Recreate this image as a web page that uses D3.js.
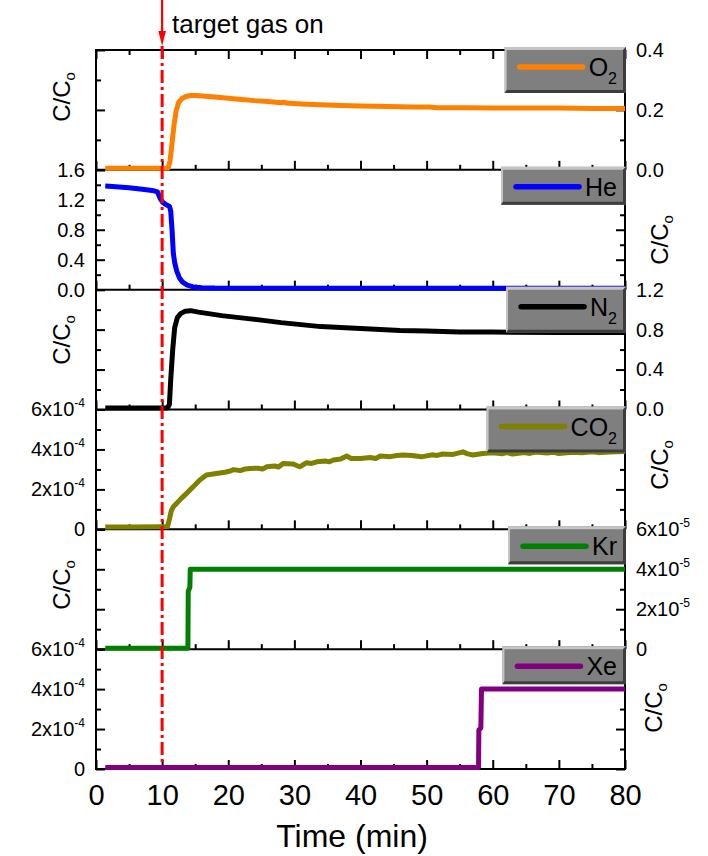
<!DOCTYPE html>
<html>
<head>
<meta charset="utf-8">
<script src="https://cdn.jsdelivr.net/npm/d3@7"></script>
<style>
  body { margin: 0; background: #ffffff; }
  svg { display: block; font-family: Arial, "Liberation Sans", sans-serif; }
</style>
</head>
<body>
<svg id="chart" width="708" height="856"></svg>
<script>
// ---- data ----------------------------------------------------------------
const gases      = ["O2", "He", "N2", "CO2", "Kr", "Xe"];
const gasColors  = ["#ff8000", "#0000ff", "#000000", "#808000", "#008000", "#800080"];
const yMax       = [0.4, 1.6, 1.2, 6e-4, 6e-5, 6e-4];
const yStep      = [0.2, 0.4, 0.4, 2e-4, 2e-5, 2e-4];
const yExponent  = [null, null, null, -4, -5, -4];
const labelSide  = ["right", "left", "right", "left", "right", "left"];
const xTicks     = [0, 10, 20, 30, 40, 50, 60, 70, 80];
const xMinorTicks = [5, 15, 25, 35, 45, 55, 65, 75];
const gasOnTime  = 10;

// [time (min), C/Co]
const o2Data = [[1.4,0.005],[4,0.005],[7,0.005],[10,0.005],[10.9,0.006],[11.2,0.03],[11.5,0.09],
  [11.8,0.15],[12.1,0.195],[12.5,0.225],[13,0.238],[13.6,0.245],[14.3,0.248],[15.2,0.248],[16.5,0.246],
  [18,0.243],[20,0.239],[22,0.235],[24,0.231],[26,0.228],[28,0.224],[28.4,0.226],[28.8,0.223],[31,0.22],
  [34,0.217],[37,0.215],[40,0.213],[44,0.211],[48,0.21],[50.5,0.21],[51.5,0.207],[56,0.207],[60,0.206],
  [65,0.206],[70,0.206],[75,0.205],[80,0.205]];

const heData = [[1.4,1.385],[3,1.375],[5,1.36],[7,1.34],[8.5,1.325],[9.3,1.305],[9.7,1.22],[10.1,1.165],
  [10.6,1.135],[11.1,1.115],[11.3,1.05],[11.5,0.8],[11.7,0.48],[11.9,0.36],[12.2,0.25],[12.6,0.16],
  [13.1,0.1],[13.8,0.06],[14.7,0.037],[16,0.027],[18,0.022],[25,0.02],[40,0.02],[60,0.02],[80,0.02]];

const n2Data = [[1.4,0.015],[6,0.015],[10.8,0.015],[11.1,0.05],[11.3,0.3],[11.6,0.6],[11.9,0.82],
  [12.3,0.92],[12.8,0.96],[13.5,0.985],[14.3,0.99],[15.5,0.975],[17,0.96],[19,0.94],[21,0.925],[23,0.91],
  [25,0.895],[28,0.87],[31,0.85],[34,0.83],[37,0.82],[40,0.81],[43,0.8],[46,0.79],[50,0.785],[55,0.777],
  [60,0.775],[70,0.772],[80,0.772]];

const co2Data = [[1.4,0.12e-4],[5,0.12e-4],[10,0.13e-4],[10.8,0.13e-4],[11.1,0.5e-4],[11.4,0.95e-4],
  [11.7,1.13e-4],[12.2,1.30e-4],[12.9,1.55e-4],[13.7,1.80e-4],[14.7,2.13e-4],[15.7,2.47e-4],[16.7,2.72e-4],
  [18.2,2.80e-4],[19.5,2.86e-4],[20.3,2.92e-4],[20.8,2.99e-4],[21.8,2.94e-4],[22.5,3.02e-4],[23.3,3.05e-4],
  [24.5,3.06e-4],[25.2,3.02e-4],[25.8,3.13e-4],[27,3.17e-4],[27.6,3.12e-4],[28.3,3.30e-4],[29.8,3.27e-4],
  [30.8,3.13e-4],[31.8,3.33e-4],[32.6,3.30e-4],[33.4,3.38e-4],[34.7,3.42e-4],[35.3,3.38e-4],[35.9,3.47e-4],
  [37,3.52e-4],[37.9,3.67e-4],[38.6,3.55e-4],[40,3.55e-4],[41.5,3.6e-4],[42.3,3.55e-4],[43,3.67e-4],
  [44.5,3.64e-4],[45.5,3.70e-4],[46.4,3.72e-4],[47.8,3.7e-4],[49.2,3.63e-4],[50.8,3.73e-4],[51.6,3.70e-4],
  [52.4,3.77e-4],[54,3.75e-4],[55.5,3.88e-4],[56.2,3.78e-4],[57,3.72e-4],[58.5,3.8e-4],[60,3.83e-4],
  [61.5,3.79e-4],[62.2,3.84e-4],[63,3.77e-4],[64.8,3.84e-4],[65.6,3.80e-4],[66.5,3.87e-4],[68.2,3.82e-4],
  [69.2,3.86e-4],[70,3.8e-4],[72,3.86e-4],[73.5,3.83e-4],[75,3.88e-4],[76,3.84e-4],[77,3.86e-4],
  [78.7,3.88e-4],[80,3.9e-4]];

const krData = [[1.4,0.05e-5],[13.9,0.05e-5],[13.95,2.9e-5],[14.2,3.1e-5],[14.25,4.0e-5],[80,4.0e-5]];

const xeData = [[1.4,0.07e-4],[57.85,0.07e-4],[57.9,1.95e-4],[58.2,2.05e-4],[58.3,4.0e-4],[80,4.0e-4]];

const seriesData = [o2Data, heData, n2Data, co2Data, krData, xeData];

// ---- layout --------------------------------------------------------------
const svg = d3.select("#chart");
const plotLeft = 96, plotRight = 625, plotTop = 50, plotBottom = 769;
const panelH = (plotBottom - plotTop) / gases.length;
const FONT = "Arial, 'Liberation Sans', sans-serif";

const x = d3.scaleLinear().domain([0, 80]).range([plotLeft, plotRight]);
const fmt1 = d3.format(".1f");

const gAxes = svg.append("g");
const gData = svg.append("g");
const gMarker = svg.append("g");
const gLegend = svg.append("g");
const gText = svg.append("g");

function styleAxis(g) {
  g.select(".domain").remove();
  g.selectAll(".tick line").attr("stroke", "#000").attr("stroke-width", 2);
  g.attr("font-family", FONT).attr("font-size", 20);
  g.selectAll(".tick text").attr("fill", "#000");
}

function formatTickLabels(g, i) {
  const ex = yExponent[i];
  g.selectAll(".tick text").each(function (d) {
    const t = d3.select(this);
    if (ex === null) { t.text(fmt1(d)); return; }
    const m = Math.round(d / Math.pow(10, ex));
    if (m === 0) { t.text("0"); return; }
    t.text(null);
    t.append("tspan").text(m + "x10");
    t.append("tspan").attr("font-size", 12).attr("dy", -9).text(String(ex));
  });
}

const scales = [];
gases.forEach((gas, i) => {
  const y0 = plotTop + i * panelH, y1 = y0 + panelH;
  const y = d3.scaleLinear().domain([0, yMax[i]]).range([y1, y0]);
  scales.push(y);
  const n = Math.round(yMax[i] / yStep[i]);
  const majors = d3.range(0, n + 1).map(k => k * yStep[i]);
  const minors = d3.range(0, n).map(k => (k + 0.5) * yStep[i]);

  // left axis
  const la = gAxes.append("g").attr("transform", `translate(${plotLeft},0)`)
    .call(d3.axisLeft(y).tickValues(majors).tickSize(-9).tickPadding(11));
  styleAxis(la);
  if (labelSide[i] === "left") formatTickLabels(la, i); else la.selectAll(".tick text").remove();
  const lm = gAxes.append("g").attr("transform", `translate(${plotLeft},0)`)
    .call(d3.axisLeft(y).tickValues(minors).tickSize(-5).tickFormat(""));
  styleAxis(lm);

  // right axis
  const ra = gAxes.append("g").attr("transform", `translate(${plotRight},0)`)
    .call(d3.axisRight(y).tickValues(majors).tickSize(-9).tickPadding(11));
  styleAxis(ra);
  if (labelSide[i] === "right") formatTickLabels(ra, i); else ra.selectAll(".tick text").remove();
  const rm = gAxes.append("g").attr("transform", `translate(${plotRight},0)`)
    .call(d3.axisRight(y).tickValues(minors).tickSize(-5).tickFormat(""));
  styleAxis(rm);

  // bottom ticks of each panel (pointing up into the panel)
  const last = i === gases.length - 1;
  const ba = gAxes.append("g").attr("transform", `translate(0,${y1})`)
    .call(d3.axisBottom(x).tickValues(xTicks).tickSize(-9).tickPadding(15));
  styleAxis(ba);
  if (last) ba.attr("font-size", 29); else ba.selectAll(".tick text").remove();
  const bm = gAxes.append("g").attr("transform", `translate(0,${y1})`)
    .call(d3.axisBottom(x).tickValues(xMinorTicks).tickSize(-5).tickFormat(""));
  styleAxis(bm);

  if (i === 0) {
    const ta = gAxes.append("g").attr("transform", `translate(0,${y0})`)
      .call(d3.axisTop(x).tickValues(xTicks).tickSize(-9).tickFormat(""));
    styleAxis(ta);
    const tm = gAxes.append("g").attr("transform", `translate(0,${y0})`)
      .call(d3.axisTop(x).tickValues(xMinorTicks).tickSize(-5).tickFormat(""));
    styleAxis(tm);
  }

  // panel separator / frame line
  gAxes.append("line")
    .attr("x1", plotLeft - 1).attr("x2", plotRight + 1)
    .attr("y1", y1).attr("y2", y1)
    .attr("stroke", "#000").attr("stroke-width", 2);
});

// outer frame
gAxes.append("line").attr("x1", plotLeft - 1).attr("x2", plotRight + 1)
  .attr("y1", plotTop).attr("y2", plotTop).attr("stroke", "#000").attr("stroke-width", 2);
gAxes.append("line").attr("x1", plotLeft).attr("x2", plotLeft)
  .attr("y1", plotTop).attr("y2", plotBottom).attr("stroke", "#000").attr("stroke-width", 2);
gAxes.append("line").attr("x1", plotRight).attr("x2", plotRight)
  .attr("y1", plotTop).attr("y2", plotBottom).attr("stroke", "#000").attr("stroke-width", 2);

// ---- data lines ----------------------------------------------------------
gases.forEach((gas, i) => {
  const y = scales[i];
  const line = d3.line().x(d => x(d[0])).y(d => y(d[1])).curve(d3.curveLinear);
  gData.append("path")
    .datum(seriesData[i])
    .attr("d", line)
    .attr("fill", "none")
    .attr("stroke", gasColors[i])
    .attr("stroke-width", 5)
    .attr("stroke-linejoin", "round");
});

// ---- "target gas on" marker ---------------------------------------------
const xm = x(gasOnTime);
gMarker.append("line").attr("x1", xm).attr("x2", xm).attr("y1", 0).attr("y2", 36)
  .attr("stroke", "#ff0000").attr("stroke-width", 2.2);
gMarker.append("path")
  .attr("d", `M${xm - 3.8},31 L${xm + 3.8},31 L${xm},46 Z`)
  .attr("fill", "#ff0000");
gMarker.append("line").attr("x1", xm).attr("x2", xm).attr("y1", 46).attr("y2", plotBottom - 3)
  .attr("stroke", "#ff0000").attr("stroke-width", 3)
  .attr("stroke-dasharray", "13,4,3,4");
gText.append("text")
  .attr("x", 172).attr("y", 33)
  .attr("font-family", FONT).attr("font-size", 26).attr("fill", "#000")
  .text("target gas on");

// ---- legends -------------------------------------------------------------
gases.forEach((gas, i) => {
  const y0 = plotTop + i * panelH;
  const hasSub = /2$/.test(gas);
  const main = hasSub ? gas.slice(0, -1) : gas;
  const boxTop = y0 - 3;
  const boxH = hasSub ? 46 : 38;
  const boxRight = plotRight + 1;
  const g = gLegend.append("g");

  // measure label first
  const txt = g.append("text").attr("font-family", FONT).attr("font-size", 25).attr("fill", "#000");
  txt.append("tspan").text(main);
  if (hasSub) txt.append("tspan").attr("font-size", 16).attr("dy", 8).text("2");
  const tw = txt.node().getComputedTextLength();

  const padR = 9, gap = 6, lineLen = 63, padL = 15;
  const boxLeft = boxRight - (padR + tw + gap + lineLen + padL);
  const bw = boxRight - boxLeft;

  g.insert("rect", "text").attr("x", boxLeft).attr("y", boxTop).attr("width", bw).attr("height", boxH)
    .attr("fill", "#7f7f7f");
  const b = 3;
  // light bevel (top & left)
  g.insert("path", "text").attr("d",
    `M${boxLeft},${boxTop} L${boxRight},${boxTop} L${boxRight - b},${boxTop + b} L${boxLeft + 2},${boxTop + b} L${boxLeft + 2},${boxTop + boxH - b} L${boxLeft},${boxTop + boxH} Z`)
    .attr("fill", "#c4c4c4");
  // dark bevel (bottom & right)
  g.insert("path", "text").attr("d",
    `M${boxRight},${boxTop} L${boxRight},${boxTop + boxH} L${boxLeft},${boxTop + boxH} L${boxLeft + 2},${boxTop + boxH - b} L${boxRight - b},${boxTop + boxH - b} L${boxRight - b},${boxTop + b} Z`)
    .attr("fill", "#3c3c3c");

  const lx0 = boxLeft + padL;
  g.insert("line", "text").attr("x1", lx0).attr("x2", lx0 + lineLen)
    .attr("y1", boxTop + 20).attr("y2", boxTop + 20)
    .attr("stroke", gasColors[i]).attr("stroke-width", 5.5).attr("stroke-linecap", "round");
  txt.attr("x", lx0 + lineLen + gap).attr("y", boxTop + 29);
});

// ---- axis titles ---------------------------------------------------------
const titleCenters = [97, 240, 340, 465, 585, 708];
const titleX = [70, 668, 70, 668, 70, 662];
gases.forEach((gas, i) => {
  const t = gText.append("text")
    .attr("transform", `translate(${titleX[i]},${titleCenters[i]}) rotate(-90)`)
    .attr("text-anchor", "middle")
    .attr("font-family", FONT).attr("font-size", 24).attr("fill", "#000");
  t.append("tspan").text("C/C");
  t.append("tspan").attr("font-size", 15).attr("dy", 5).text("o");
});

gText.append("text")
  .attr("x", 352).attr("y", 847)
  .attr("text-anchor", "middle")
  .attr("font-family", FONT).attr("font-size", 32).attr("fill", "#000")
  .text("Time (min)");
</script>
</body>
</html>
